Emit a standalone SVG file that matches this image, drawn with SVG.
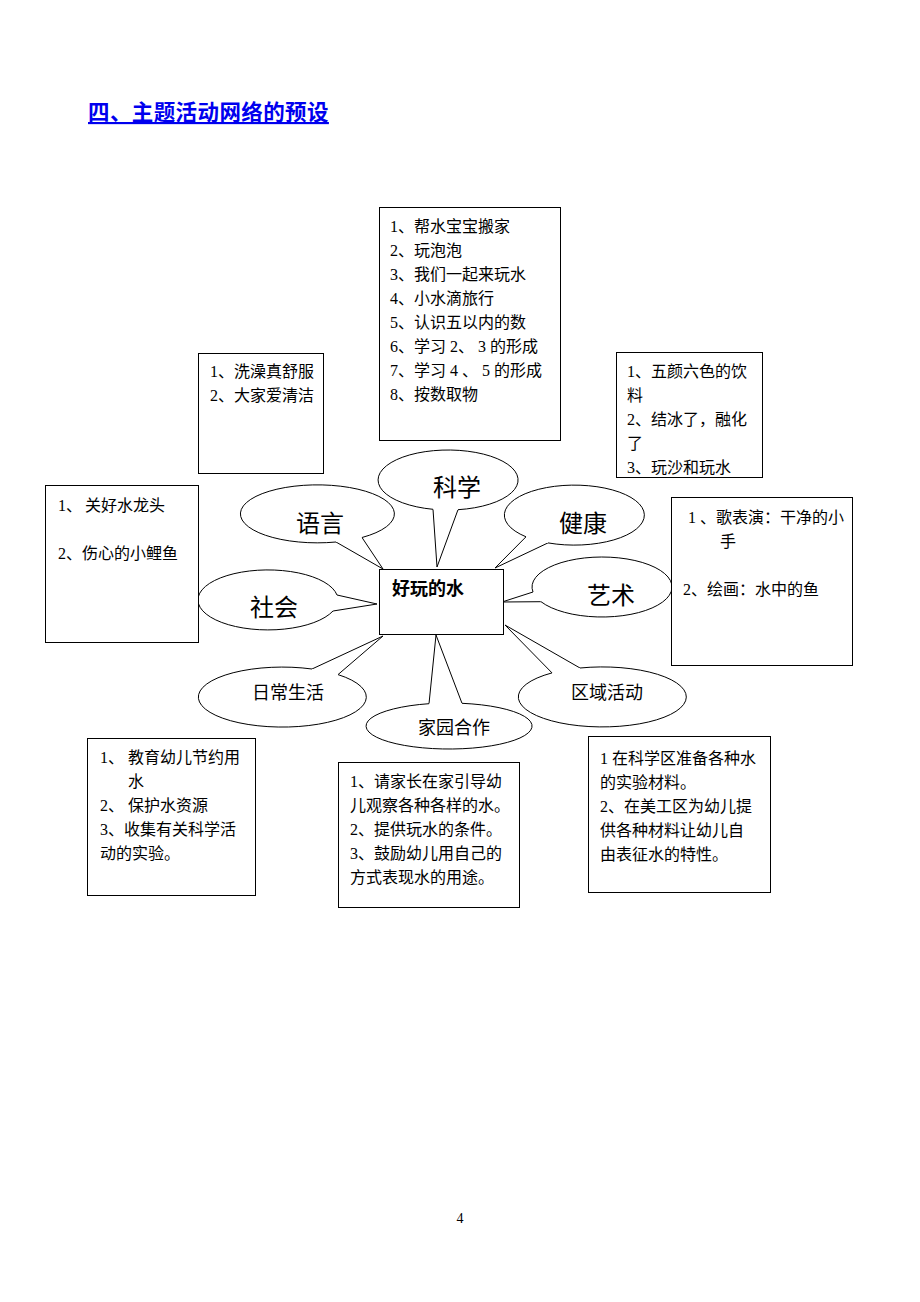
<svg xmlns="http://www.w3.org/2000/svg" width="920" height="1302" viewBox="0 0 920 1302">
<style>
.box{fill:#fff;stroke:#000;stroke-width:1}
.bub{fill:#fff;stroke:#000;stroke-width:1}
.ptr{fill:none;stroke:#000;stroke-width:1;stroke-linejoin:miter}
.t{font-family:"Liberation Serif","Noto Sans CJK SC",serif;font-size:16px;fill:#000}
.l24{font-family:"Liberation Serif","Noto Sans CJK SC",serif;font-size:24px;fill:#000;text-anchor:middle}
.l18{font-family:"Liberation Serif","Noto Sans CJK SC",serif;font-size:18px;fill:#000;text-anchor:middle}
.title{font-family:"Noto Sans CJK SC",sans-serif;font-size:21.5px;font-weight:bold;fill:#0000ee;text-decoration:underline;letter-spacing:0.4px}
</style>
<rect x="0" y="0" width="920" height="1302" fill="#fff"/>
<text class="title" x="88" y="120">四、主题活动网络的预设</text>

<g id="connectors">
<polyline class="ptr" points="433,509.3 437,567 458,509.7"/>
<polyline class="ptr" points="336,542 383,569 362,537.5"/>
<polyline class="ptr" points="526,536.8 495,568 548,542.9"/>
<polyline class="ptr" points="533,592 502,602 541,601.7"/>
<polyline class="ptr" points="333,611 377,604 337,595"/>
<polyline class="ptr" points="338,674.6 383,636 312,669"/>
<polyline class="ptr" points="462,703.3 436,635 429,703.7"/>
<polyline class="ptr" points="580,668 505,625 552,672.9"/>
</g>

<g id="center">
<rect class="box" x="379.5" y="569.5" width="124" height="65"/>
<text class="t" x="392" y="595" style="font-size:18px;font-weight:bold;font-family:'Noto Sans CJK SC',sans-serif">好玩的水</text>
</g>

<g id="bubble-kexue">
<path class="bub" d="M458,509.7 A70,30 0 1 0 433,509.3"/>
<text class="l24" x="457" y="496">科学</text>
</g>
<g id="bubble-yuyan">
<path class="bub" d="M362,537.5 A77,29 0 1 0 336,542"/>
<text class="l24" x="320" y="532">语言</text>
</g>
<g id="bubble-jiankang">
<path class="bub" d="M548,542.9 A70,30 0 1 0 526,536.8"/>
<text class="l24" x="583" y="532">健康</text>
</g>
<g id="bubble-yishu">
<path class="bub" d="M541,601.7 A70,30 0 1 0 533,592"/>
<text class="l24" x="611" y="604">艺术</text>
</g>
<g id="bubble-shehui">
<path class="bub" d="M337,595 A70,30 0 1 0 333,611"/>
<text class="l24" x="274" y="616">社会</text>
</g>
<g id="bubble-richang">
<path class="bub" d="M312,669 A84,30 0 1 0 338,674.6"/>
<text class="l18" x="288" y="699">日常生活</text>
</g>
<g id="bubble-jiayuan">
<path class="bub" d="M429,703.7 A83,23 0 1 0 462,703.3"/>
<text class="l18" x="454" y="734">家园合作</text>
</g>
<g id="bubble-quyu">
<path class="bub" d="M552,672.9 A84,30 0 1 0 580,668"/>
<text class="l18" x="607" y="699">区域活动</text>
</g>

<g id="box-kexue">
<rect class="box" x="379.5" y="207.5" width="181" height="233"/>
<text class="t" x="390" y="232">1、帮水宝宝搬家</text>
<text class="t" x="390" y="256">2、玩泡泡</text>
<text class="t" x="390" y="280">3、我们一起来玩水</text>
<text class="t" x="390" y="304">4、小水滴旅行</text>
<text class="t" x="390" y="328">5、认识五以内的数</text>
<text class="t" x="390" y="352">6、学习 2、 3 的形成</text>
<text class="t" x="390" y="376">7、学习 4 、 5 的形成</text>
<text class="t" x="390" y="400">8、按数取物</text>
</g>

<g id="box-yuyan">
<rect class="box" x="198.5" y="353.5" width="125" height="120"/>
<text class="t" x="210" y="377">1、洗澡真舒服</text>
<text class="t" x="210" y="401">2、大家爱清洁</text>
</g>

<g id="box-jiankang">
<rect class="box" x="616.5" y="352.5" width="146" height="125"/>
<text class="t" x="627" y="377">1、五颜六色的饮</text>
<text class="t" x="627" y="401">料</text>
<text class="t" x="627" y="425">2、结冰了，融化</text>
<text class="t" x="627" y="449">了</text>
<text class="t" x="627" y="473">3、玩沙和玩水</text>
</g>

<g id="box-yishu">
<rect class="box" x="671.5" y="497.5" width="181" height="168"/>
<text class="t" x="688" y="523">1 、歌表演：干净的小</text>
<text class="t" x="720" y="547">手</text>
<text class="t" x="683" y="595">2、绘画：水中的鱼</text>
</g>

<g id="box-shehui">
<rect class="box" x="45.5" y="485.5" width="153" height="157"/>
<text class="t" x="58" y="511">1、<tspan x="85">关好水龙头</tspan></text>
<text class="t" x="58" y="559">2、伤心的小鲤鱼</text>
</g>

<g id="box-richang">
<rect class="box" x="87.5" y="738.5" width="168" height="157"/>
<text class="t" x="100" y="763">1、<tspan x="128">教育幼儿节约用</tspan></text>
<text class="t" x="128" y="787">水</text>
<text class="t" x="100" y="811">2、<tspan x="128">保护水资源</tspan></text>
<text class="t" x="100" y="835">3、收集有关科学活</text>
<text class="t" x="100" y="859">动的实验。</text>
</g>

<g id="box-jiayuan">
<rect class="box" x="338.5" y="762.5" width="181" height="145"/>
<text class="t" x="350" y="787">1、请家长在家引导幼</text>
<text class="t" x="350" y="811">儿观察各种各样的水。</text>
<text class="t" x="350" y="835">2、提供玩水的条件。</text>
<text class="t" x="350" y="859">3、鼓励幼儿用自己的</text>
<text class="t" x="350" y="883">方式表现水的用途。</text>
</g>

<g id="box-quyu">
<rect class="box" x="588.5" y="736.5" width="182" height="156"/>
<text class="t" x="600" y="764">1 在科学区准备各种水</text>
<text class="t" x="600" y="788">的实验材料。</text>
<text class="t" x="600" y="812">2、在美工区为幼儿提</text>
<text class="t" x="600" y="836">供各种材料让幼儿自</text>
<text class="t" x="600" y="860">由表征水的特性。</text>
</g>

<text x="460" y="1223" style="font-family:'Liberation Serif',serif;font-size:14px;text-anchor:middle">4</text>
</svg>
